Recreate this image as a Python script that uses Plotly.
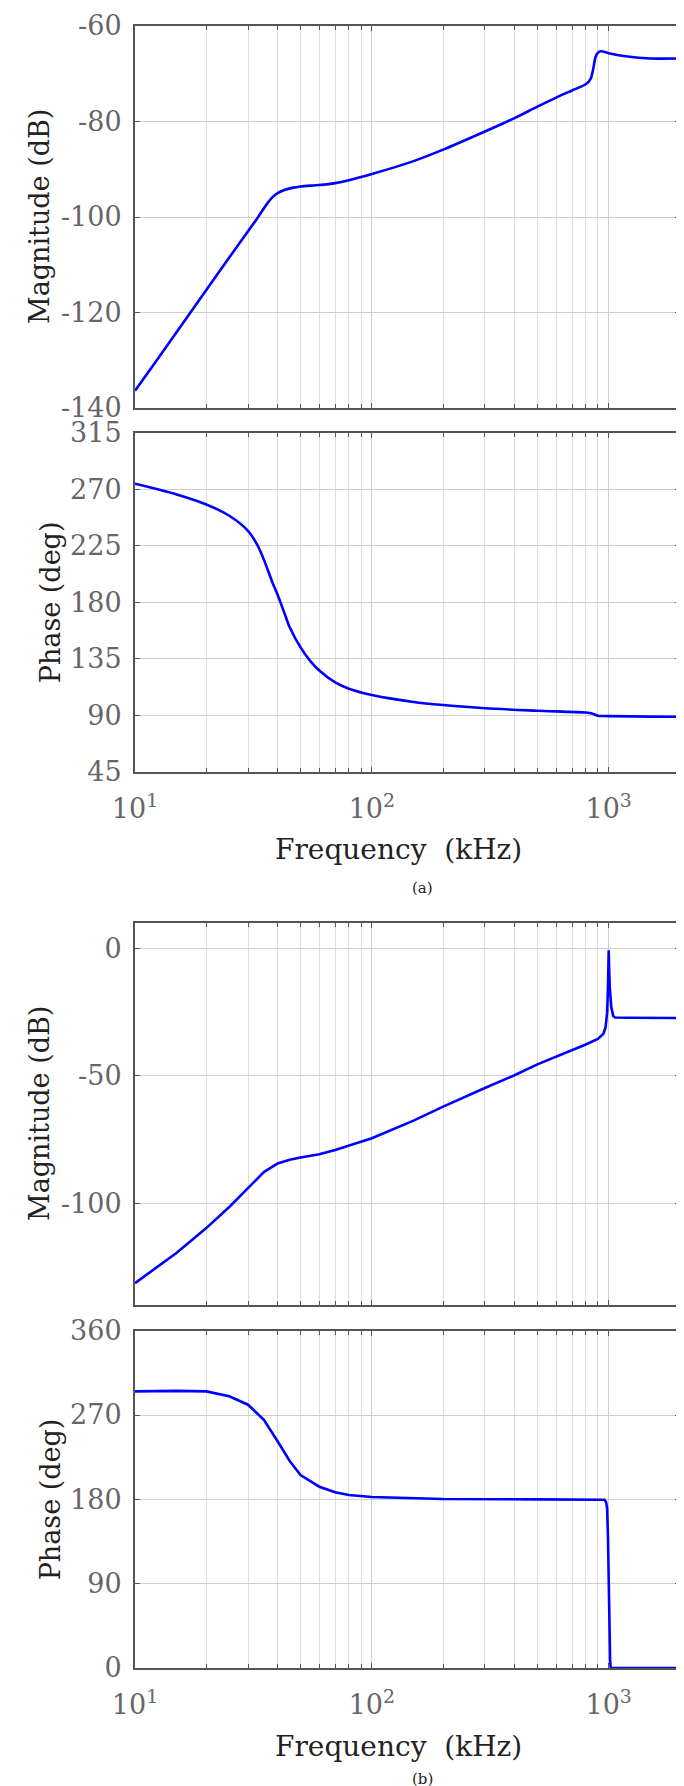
import numpy as np
import plotly.graph_objects as go

# ---------------- data ----------------
freq_mag_a = [10, 12, 15, 20, 25, 30, 33, 36, 38, 40, 43, 46, 50, 60, 70, 80, 100,
              150, 200, 300, 400, 500, 600, 700, 800, 840, 860, 880, 900, 930, 1000,
              1200, 1500, 2000]
mag_a = [-136.4, -130.9, -124.1, -115.3, -108.5, -103.0, -100.1, -97.3, -95.9, -95.0,
         -94.3, -93.9, -93.6, -93.3, -92.9, -92.3, -91.0, -88.3, -85.9, -82.1, -79.3,
         -76.9, -75.0, -73.5, -72.2, -71.0, -69.0, -66.5, -65.6, -65.3, -65.7, -66.4,
         -66.8, -66.8]

freq_ph_a = [10, 15, 20, 25, 30, 33, 35, 38, 40, 43, 45, 50, 55, 60, 70, 80, 100, 150,
             200, 300, 500, 800, 850, 900, 1000, 1500, 2000]
phase_a = [274.5, 266, 258, 249, 237, 225, 214, 196, 186, 170, 160, 144, 133, 125.5,
           116, 111, 106, 100.5, 98, 95.4, 93.5, 92, 91.3, 89.5, 89.2, 88.8, 88.6]

freq_mag_b = [10, 15, 20, 25, 30, 35, 40, 45, 50, 60, 70, 80, 100, 150, 200, 300, 400,
              500, 600, 700, 800, 900, 950, 970, 985, 993, 998, 1000, 1003, 1010, 1025,
              1045, 1065, 1200, 2000]
mag_b = [-131.4, -119.5, -109.8, -101.5, -94.1, -87.8, -84.4, -83.0, -82.1, -80.8,
         -79.1, -77.4, -74.5, -67.6, -62.1, -54.8, -49.8, -45.5, -42.5, -40.0, -37.7,
         -35.5, -33.5, -31.0, -25.0, -15.0, -6.0, -0.7, -6.0, -15.0, -23.0, -26.5,
         -27.1, -27.2, -27.3]

freq_ph_b = [10, 15, 20, 25, 30, 35, 40, 45, 50, 60, 70, 80, 100, 200, 500, 900, 960,
             975, 985, 993, 1000, 1007, 1014, 1020, 2000]
phase_b = [295.2, 295.8, 295.2, 290, 281, 265, 242, 221, 206, 193.5, 187.5, 184.6,
           182.5, 180.4, 180, 180, 179.5, 177, 170, 140, 90, 35, 8, 0, 0]

x_major = [10, 100, 1000]
x_major_text = ["10<sup>1</sup>", "10<sup>2</sup>", "10<sup>3</sup>"]
x_minor = [20, 30, 40, 50, 60, 70, 80, 90, 200, 300, 400, 500, 600, 700, 800, 900]

ticks_mag_a = [-140, -120, -100, -80, -60]
ticks_ph_a = [45, 90, 135, 180, 225, 270, 315]
ticks_mag_b = [-100, -50, 0]
ticks_ph_b = [0, 90, 180, 270, 360]

# ---------------- layout helpers ----------------
W, H = 684, 1786
FONT = "DejaVu Serif"
x_dom = [127 / W, 672 / W]
panels = [  # (top px, bottom px, y range, y ticks, title, show x labels, shape)
    (18, 400, [-140, -60], ticks_mag_a, "Magnitude (dB)", False, "spline"),
    (425, 763.5, [45, 315], ticks_ph_a, "Phase (deg)", True, "spline"),
    (915, 1297, [-140, 10], ticks_mag_b, "Magnitude (dB)", False, "linear"),
    (1322.7, 1660, [0, 360], ticks_ph_b, "Phase (deg)", True, "linear"),
]
series = [(freq_mag_a, mag_a), (freq_ph_a, phase_a), (freq_mag_b, mag_b), (freq_ph_b, phase_b)]

fig = go.Figure()
layout = dict(width=W, height=H, margin=dict(l=0, r=0, t=0, b=0, autoexpand=False),
              paper_bgcolor="white", plot_bgcolor="white", showlegend=False,
              font=dict(family=FONT, color="#222"))
annotations = []

for i, ((top, bot, yr, yt, ttl, showx, shape), (fx, fy)) in enumerate(zip(panels, series), start=1):
    xa = "x" if i == 1 else f"x{i}"
    ya = "y" if i == 1 else f"y{i}"
    fig.add_trace(go.Scatter(x=fx, y=fy, mode="lines", xaxis=xa, yaxis=ya,
                             line=dict(color="#0000ff", width=2.6, shape=shape,
                                       smoothing=0.8 if shape == "spline" else None)))
    common = dict(showline=True, mirror="ticks", linecolor="#555", linewidth=2,
                  ticks="inside", ticklen=5, tickcolor="#555", tickwidth=1,
                  showgrid=True, gridcolor="#cfcfcf", gridwidth=1, zeroline=False,
                  automargin=False,
                  tickfont=dict(family=FONT, size=27, color="#666"))
    layout["xaxis" if i == 1 else f"xaxis{i}"] = dict(
        common, type="log", range=[1, np.log10(2000)], domain=x_dom,
        anchor=ya, tickvals=x_major, ticktext=x_major_text,
        showticklabels=showx, ticklabelstandoff=12,
        minor=dict(tickvals=x_minor, ticks="inside", ticklen=4, tickcolor="#555",
                   showgrid=True, gridcolor="#dedede", gridwidth=1))
    layout["yaxis" if i == 1 else f"yaxis{i}"] = dict(
        common, range=yr, tickvals=yt, ticktext=[str(v) for v in yt],
        domain=[1 - bot / H, 1 - top / H], anchor=xa, ticklabelstandoff=6)
    xc = 31 if "Mag" in ttl else 42
    annotations.append(dict(text=ttl, textangle=-90, x=xc / W, y=1 - (top + bot) / 2 / H,
                            xref="paper", yref="paper", showarrow=False,
                            xanchor="center", yanchor="middle",
                            font=dict(family=FONT, size=27, color="#222")))
    if showx:
        annotations.append(dict(text="Frequency\u00a0 (kHz)", x=390 / W,
                                y=1 - (bot + 78) / H, xref="paper", yref="paper",
                                showarrow=False, xanchor="center", yanchor="middle",
                                font=dict(family=FONT, size=28, color="#222")))

annotations.append(dict(text="(a)", x=414 / W, y=1 - 880 / H, xref="paper", yref="paper",
                        showarrow=False, xanchor="center", yanchor="middle",
                        font=dict(family=FONT, size=15, color="#222")))
annotations.append(dict(text="(b)", x=414 / W, y=1 - 1771 / H, xref="paper", yref="paper",
                        showarrow=False, xanchor="center", yanchor="middle",
                        font=dict(family=FONT, size=15, color="#222")))
layout["annotations"] = annotations
fig.update_layout(**layout)
fig.write_html("out.html")
